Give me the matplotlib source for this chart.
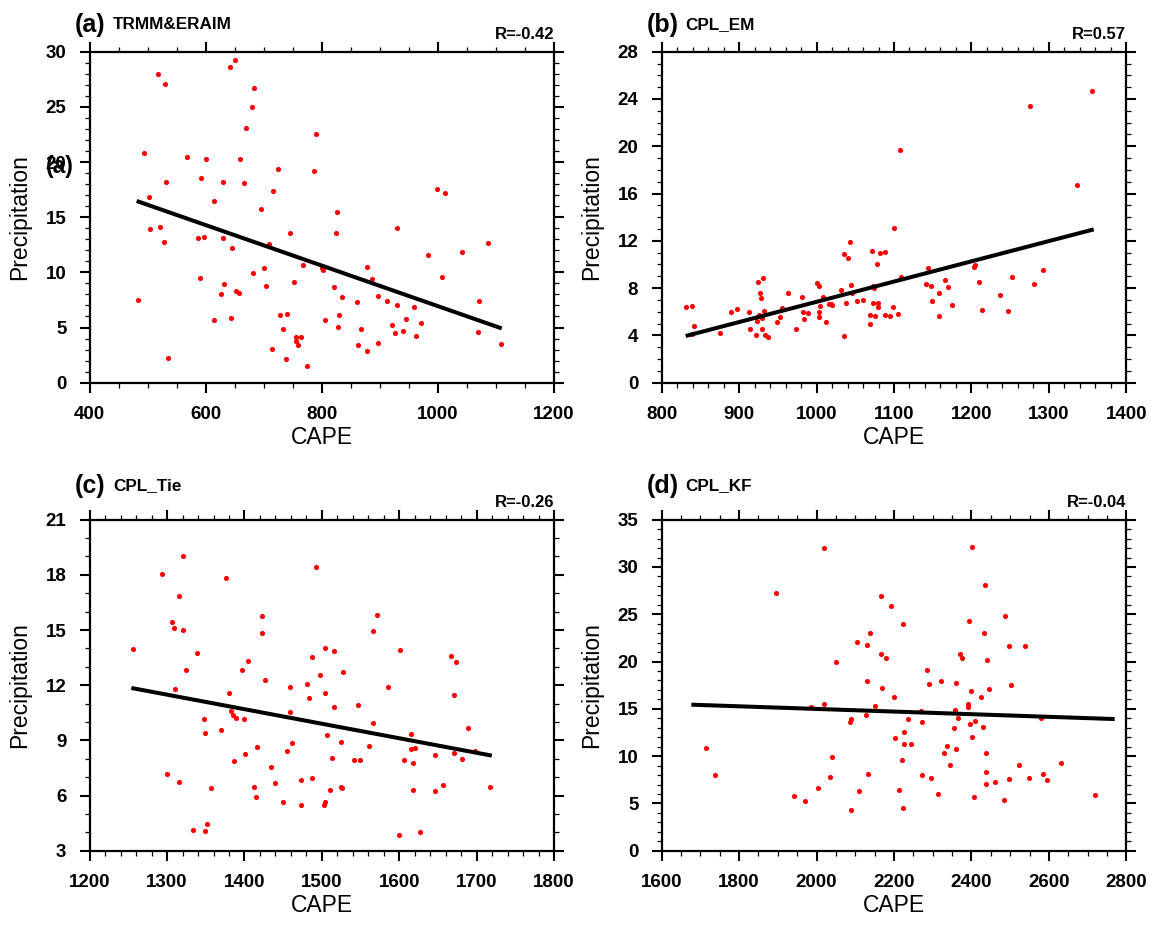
import matplotlib
matplotlib.use("Agg")
import matplotlib.pyplot as plt
from matplotlib.ticker import MultipleLocator

# values
cape_a = [482.6, 494.1, 502.1, 504.4, 518.2, 520.5, 530.3, 530.8, 528.0, 535.4,
          567.6, 585.9, 591.7, 590.5, 596.3, 600.9, 614.1, 613.5, 626.1, 629.6,
          629.6, 631.9, 641.6, 649.6, 644.5, 642.8, 651.9, 657.1, 659.4, 666.3,
          668.6, 678.9, 683.5, 681.8, 695.0, 700.1, 703.0, 708.8, 714.5, 715.7,
          724.8, 727.7, 732.3, 738.0, 740.3, 744.9, 752.4, 755.2, 755.8, 759.3,
          763.3, 767.9, 774.8, 786.8, 789.7, 800.0, 801.8, 804.6, 820.1, 824.1,
          826.4, 827.5, 829.3, 835.0, 861.4, 862.6, 867.7, 878.6, 878.1, 886.7,
          897.0, 897.6, 912.5, 921.1, 926.3, 929.2, 929.7, 939.5, 945.8, 959.5,
          962.4, 970.4, 983.1, 998.0, 1007.2, 1012.3, 1041.0, 1069.2, 1071.5, 1087.0,
          1108.8]
prcp_a = [7.52, 20.8, 16.86, 13.9, 27.95, 14.14, 27.1, 18.16, 12.72, 2.2,
          20.48, 13.08, 18.55, 9.49, 13.17, 20.24, 16.43, 5.68, 8.04, 18.19,
          13.14, 8.91, 28.64, 29.21, 12.18, 5.89, 8.31, 8.1, 20.24, 18.07,
          23.11, 24.98, 26.71, 9.91, 15.77, 10.39, 8.79, 12.54, 3.02, 17.37,
          19.34, 6.13, 4.83, 2.15, 6.19, 13.6, 9.09, 4.17, 3.75, 3.44,
          4.11, 10.63, 1.48, 19.18, 22.57, 10.39, 10.18, 5.71, 8.67, 13.6,
          15.47, 5.02, 6.13, 7.73, 7.28, 3.38, 4.83, 10.51, 2.9, 9.4,
          7.82, 3.63, 7.4, 5.23, 4.53, 7.01, 13.99, 4.71, 5.8, 6.83,
          4.26, 5.44, 11.54, 17.58, 9.61, 17.19, 11.81, 4.62, 7.43, 12.63,
          3.53]

cape_b = [831.0, 839.2, 841.3, 839.2, 875.3, 890.0, 897.7, 912.4, 914.5, 921.4,
          922.7, 924.4, 927.4, 928.7, 930.4, 925.3, 929.6, 929.6, 931.7, 933.0,
          937.8, 948.9, 952.8, 955.0, 963.6, 973.5, 981.2, 983.0, 983.4, 988.5,
          1000.2, 1003.2, 1003.6, 1004.0, 1003.6, 1008.8, 1012.7, 1015.7, 1020.0, 1018.3,
          1031.6, 1035.0, 1035.0, 1038.5, 1040.6, 1043.2, 1044.9, 1046.2, 1052.7, 1060.4,
          1069.5, 1069.5, 1072.1, 1072.9, 1073.4, 1074.6, 1075.1, 1078.5, 1079.0, 1079.8,
          1082.0, 1088.0, 1088.4, 1094.9, 1099.2, 1100.0, 1105.6, 1108.2, 1109.1, 1144.4,
          1141.8, 1147.8, 1148.7, 1158.2, 1158.2, 1165.9, 1170.2, 1175.4, 1203.4, 1204.2,
          1210.2, 1214.1, 1237.4, 1247.3, 1252.4, 1276.1, 1281.3, 1292.0, 1335.9, 1355.8]
prcp_b = [6.43, 6.51, 4.77, 4.09, 4.17, 6.01, 6.23, 6.01, 4.51, 4.03,
          5.25, 8.54, 7.56, 7.19, 8.83, 5.75, 5.47, 4.54, 6.09, 4.03,
          3.89, 5.1, 5.53, 6.32, 7.61, 4.54, 7.22, 6.01, 5.36, 5.92,
          8.46, 8.21, 5.98, 6.51, 5.53, 7.25, 5.1, 6.63, 6.54, 6.63,
          7.84, 10.89, 3.92, 6.71, 10.52, 11.93, 8.23, 7.56, 6.88, 6.99,
          5.72, 4.96, 11.11, 6.77, 8.18, 7.98, 5.67, 10.01, 6.74, 6.4,
          10.94, 11.05, 5.75, 5.67, 6.37, 13.06, 5.78, 19.68, 8.91, 9.73,
          8.32, 8.18, 6.91, 7.56, 5.67, 8.66, 8.07, 6.54, 9.81, 9.95,
          8.49, 6.18, 7.39, 6.03, 8.97, 23.43, 8.32, 9.53, 16.72, 24.65]

cape_c = [1255.5, 1293.8, 1300.3, 1306.8, 1309.3, 1309.8, 1315.4, 1315.8, 1321.0, 1321.0,
          1324.8, 1333.0, 1339.0, 1347.7, 1348.9, 1348.5, 1351.1, 1356.7, 1369.2, 1375.6,
          1379.5, 1382.5, 1385.5, 1389.0, 1386.4, 1397.2, 1399.7, 1401.0, 1404.9, 1411.8,
          1415.2, 1416.5, 1422.1, 1422.1, 1426.0, 1433.7, 1439.3, 1450.1, 1454.8, 1458.7,
          1458.7, 1461.7, 1473.4, 1473.4, 1481.1, 1483.7, 1486.7, 1487.6, 1492.3, 1497.5,
          1503.5, 1504.4, 1504.4, 1503.1, 1506.5, 1510.8, 1512.5, 1515.1, 1515.1, 1524.6,
          1524.6, 1525.4, 1526.7, 1541.4, 1549.1, 1546.1, 1561.2, 1565.5, 1566.4, 1571.1,
          1585.7, 1599.9, 1600.8, 1605.9, 1615.0, 1615.8, 1618.4, 1618.0, 1620.1, 1626.6,
          1646.4, 1646.4, 1657.2, 1667.1, 1670.9, 1671.4, 1673.5, 1681.3, 1688.6, 1698.1,
          1717.4]
prcp_c = [13.98, 18.03, 7.17, 15.43, 15.09, 11.79, 16.85, 6.75, 19.0, 14.98,
          12.84, 4.12, 13.73, 10.16, 9.4, 4.07, 4.43, 6.39, 9.54, 17.85,
          11.57, 10.61, 10.38, 10.2, 7.89, 12.81, 10.16, 8.24, 13.3, 6.46,
          5.9, 8.62, 15.74, 14.84, 12.28, 7.55, 6.7, 5.63, 8.44, 11.88,
          10.56, 8.87, 6.82, 5.47, 12.08, 11.3, 13.51, 6.93, 18.41, 12.55,
          14.0, 11.56, 5.66, 5.47, 9.27, 6.28, 8.06, 13.86, 10.83, 8.93,
          6.44, 6.39, 12.73, 7.95, 7.95, 10.92, 8.67, 9.92, 14.93, 15.8,
          11.88, 3.83, 13.91, 7.91, 9.33, 8.51, 7.77, 6.28, 8.6, 4.0,
          8.22, 6.24, 6.55, 13.59, 8.29, 11.46, 13.24, 7.97, 9.67, 8.42,
          6.44]

cape_d = [1713.6, 1737.7, 1896.2, 1941.8, 1971.1, 1986.6, 2003.8, 2019.3, 2019.3, 2034.8,
          2040.0, 2051.2, 2085.6, 2089.9, 2088.2, 2103.7, 2108.8, 2129.5, 2129.5, 2128.6,
          2133.8, 2137.2, 2151.9, 2165.6, 2165.6, 2168.2, 2179.4, 2191.5, 2200.1, 2203.5,
          2220.8, 2222.5, 2223.4, 2225.9, 2226.8, 2213.9, 2236.2, 2243.1, 2270.7, 2271.5,
          2272.4, 2286.2, 2290.5, 2296.5, 2314.6, 2322.4, 2329.3, 2337.9, 2344.7, 2354.2,
          2357.7, 2360.2, 2361.1, 2366.3, 2370.6, 2375.7, 2392.1, 2392.1, 2393.8, 2396.4,
          2399.0, 2401.6, 2402.4, 2405.9, 2410.2, 2424.8, 2429.1, 2431.7, 2436.0, 2437.7,
          2437.7, 2437.7, 2441.2, 2445.5, 2460.1, 2483.4, 2487.7, 2497.2, 2498.0, 2502.3,
          2523.8, 2538.5, 2547.9, 2580.6, 2585.8, 2596.1, 2632.3, 2720.1]
prcp_d = [10.86, 8.0, 27.28, 5.82, 5.25, 15.16, 6.66, 32.0, 15.54, 7.75,
          9.87, 19.92, 13.57, 13.92, 4.34, 22.07, 6.31, 21.71, 17.91, 14.35,
          8.14, 23.02, 15.3, 26.89, 20.76, 17.24, 20.34, 25.91, 16.25, 11.95,
          9.55, 4.51, 23.93, 12.58, 11.28, 6.45, 13.96, 11.24, 14.77, 13.61,
          7.97, 19.07, 17.59, 7.65, 5.96, 17.91, 10.33, 11.03, 9.02, 12.94,
          14.87, 17.77, 10.72, 14.03, 20.83, 20.34, 15.23, 15.47, 24.29, 13.39,
          16.85, 32.15, 11.98, 5.64, 13.68, 16.25, 13.08, 22.98, 28.09, 10.36,
          8.28, 7.01, 20.13, 17.06, 7.23, 5.36, 24.81, 7.54, 21.61, 17.52,
          9.09, 21.68, 7.65, 13.99, 8.11, 7.47, 9.24, 5.85]

# regression line end points, also
fit_x_a, fit_y_a = [480.9, 1109.9], [16.47, 4.92]
fit_x_b, fit_y_b = [831.0, 1357.9], [3.95, 12.97]
fit_x_c, fit_y_c = [1253.8, 1719.6], [11.85, 8.17]
fit_x_d, fit_y_d = [1676.6, 2770.0], [15.44, 13.92]

letters = ["(a)", "(b)", "(c)", "(d)"]
names = ["TRMM&ERAIM", "CPL_EM", "CPL_Tie", "CPL_KF"]
r_text = ["R=-0.42", "R=0.57", "R=-0.26", "R=-0.04"]

W, H = 1151, 926
plt.rcParams['font.family'] = ['Liberation Sans', 'DejaVu Sans']

fig = plt.figure(figsize=(W / 100, H / 100), dpi=100)

def fx(x):
    return x / W

def fy(y):
    return 1 - y / H

# left, top, right, bottom in pixels
boxes = [(89.7, 51.7, 554.0, 382.7), (661.7, 51.7, 1126.3, 382.7),
         (89.7, 519.7, 554.0, 850.7), (661.7, 519.7, 1126.3, 850.7)]
xs = [cape_a, cape_b, cape_c, cape_d]
ys = [prcp_a, prcp_b, prcp_c, prcp_d]
fits = [(fit_x_a, fit_y_a), (fit_x_b, fit_y_b), (fit_x_c, fit_y_c), (fit_x_d, fit_y_d)]
xlims = [(400, 1200), (800, 1400), (1200, 1800), (1600, 2800)]
ylims = [(0, 30), (0, 28), (3, 21), (0, 35)]
xmaj = [200, 100, 100, 200]
xmin = [50, 20, 20, 50]
ymaj = [5, 4, 3, 5]

for i in range(4):
    l, t, r, b = boxes[i]
    ax = fig.add_axes([fx(l), fy(b), (r - l) / W, (b - t) / H])
    ax.plot(xs[i], ys[i], 'o', color='red', ms=3.7, mec='none', zorder=2)
    ax.plot(fits[i][0], fits[i][1], color='black', lw=2.9, zorder=3,
            solid_capstyle='butt')
    ax.set_xlim(xlims[i])
    ax.set_ylim(ylims[i])
    ax.xaxis.set_major_locator(MultipleLocator(xmaj[i]))
    ax.xaxis.set_minor_locator(MultipleLocator(xmin[i]))
    ax.yaxis.set_major_locator(MultipleLocator(ymaj[i]))
    ax.yaxis.set_minor_locator(MultipleLocator(1))
    for s in ax.spines.values():
        s.set_linewidth(1.6)
    ax.tick_params(which='both', direction='out', top=True, right=True)
    ax.tick_params(which='major', length=7.5, width=1.5, labelsize=13.5, pad=9.3)
    ax.tick_params(which='minor', length=3.6, width=0.9)
    for lab in ax.get_xticklabels() + ax.get_yticklabels():
        lab.set_fontweight('bold')

    cx = (l + r) / 2
    cy = (t + b) / 2
    fig.text(fx(l - 70), fy(cy), "Precipitation", rotation=90, ha='center',
             va='center', fontsize=16.5)
    fig.text(fx(cx), fy(b + 55), "CAPE", ha='center', va='center', fontsize=16.5)

    up = 19.4 if i < 2 else 26.4
    fig.text(fx(l - 14.7), fy(t - up), letters[i], ha='left', va='baseline',
             fontsize=18, fontweight='bold')
    fig.text(fx(l + 23.5), fy(t - up - 3), names[i], ha='left', va='baseline',
             fontsize=12.3, fontweight='bold')
    fig.text(fx(r), fy(t - 12.5), r_text[i], ha='right', va='baseline',
             fontsize=12, fontweight='bold')

# stray panel label sitting over the "20" tick label in panel (a)
fig.text(fx(46), fy(173.3), "(a)", ha='left', va='baseline', fontsize=16.5,
         fontweight='bold')

fig.savefig('out.png', dpi=100)
